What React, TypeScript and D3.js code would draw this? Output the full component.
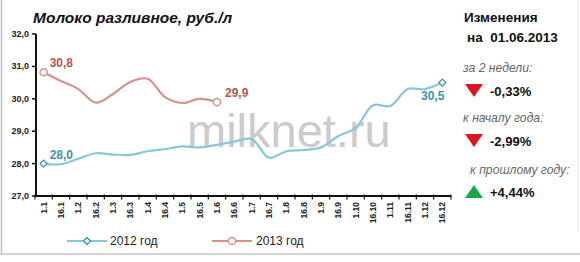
import React from "react";
import * as d3 from "d3";

const categories = ["1.1","16.1","1.2","16.2","1.3","16.3","1.4","16.4","1.5","16.5","1.6","16.6","1.7","16.7","1.8","16.8","1.9","16.9","1.10","16.10","1.11","16.11","1.12","16.12"];
const values2012 = [28.0,27.98,28.15,28.32,28.28,28.27,28.38,28.45,28.53,28.5,28.58,28.68,28.76,28.18,28.38,28.42,28.5,28.85,29.1,29.8,29.78,30.3,30.3,30.5];
const values2013 = [30.82,30.55,30.3,29.88,30.15,30.52,30.62,30.05,29.87,30.0,29.9];
const yTicks = [27,28,29,30,31,32];
const seriesNames = ["2012 год","2013 год"];
const changeLabels = ["за 2 недели:","к началу года:","к прошлому году:"];
const changeValues = ["-0,33%","-2,99%","+4,44%"];
const changeUp = [false,false,true];

const C2012 = "#86c8d8";
const C2013 = "#d6918a";
const L2012 = "#3e93a8";
const L2013 = "#b8574f";
const FONT = "'Liberation Sans', Arial, sans-serif";

export default function App() {
  const W = 580, H = 262;
  const x = d3.scaleBand<string>().domain(categories).range([35, 451]);
  const y = d3.scaleLinear().domain([27, 32]).range([196, 34]);
  const cx = (i: number) => (x(categories[i]) as number) + x.bandwidth() / 2;
  const line = d3.line<number>().x((_, i) => cx(i)).y(d => y(d)).curve(d3.curveCatmullRom.alpha(0.5));
  const fmt = (v: number) => v.toFixed(1).replace(".", ",");
  const diamond = (px: number, py: number, r = 3.5) => `M${px},${py - r}L${px + r},${py}L${px},${py + r}L${px - r},${py}Z`;
  const last12 = values2012.length - 1;
  const last13 = values2013.length - 1;
  const bounds = categories.map((c) => x(c) as number).concat([x.range()[1]]);
  const rowY = [72, 122, 174];
  const triTop = [84, 134, 185];
  return (
    <svg width={W} height={H} style={{ position: "absolute", left: 0, top: 0 }} fontFamily={FONT}>
      <rect x={0} y={0} width={W} height={H} fill="#fff" />
      {/* frame */}
      <line x1={1.5} y1={0} x2={1.5} y2={254} stroke="#bdbdbd" strokeWidth={1.5} />
      <line x1={0} y1={254} x2={W} y2={254} stroke="#c4c4c4" strokeWidth={1.5} />
      <line x1={578} y1={0} x2={578} y2={232} stroke="#e4e8ee" strokeWidth={1} />
      {/* title */}
      <text x={33} y={23} fontSize={15.5} fontWeight="bold" fontStyle="italic" fill="#111">Молоко разливное, руб./л</text>
      {/* watermark */}
      <text x={187} y={147} fontSize={47} fill="#c2c2c2" opacity={0.85}>milknet.ru</text>
      {/* y axis */}
      <line x1={36} y1={y(32)} x2={36} y2={y(27)} stroke="#111" strokeWidth={2} />
      {yTicks.map(t => (
        <g key={t}>
          <line x1={32} x2={36} y1={y(t)} y2={y(t)} stroke="#111" strokeWidth={1.5} />
          <text x={29} y={y(t) + 3} textAnchor="end" fontSize={9} fontWeight="bold" fill="#222">{fmt(t)}</text>
        </g>
      ))}
      {/* x axis */}
      <line x1={35} x2={451} y1={y(27)} y2={y(27)} stroke="#111" strokeWidth={2} />
      {bounds.map((b, i) => (
        <line key={i} x1={b} x2={b} y1={y(27) - 1.5} y2={y(27) + 3.5} stroke="#111" strokeWidth={1.2} />
      ))}
      {categories.map((c, i) => (
        <text key={c} transform={`translate(${cx(i) + 3},${y(27) + 6}) rotate(-90)`} textAnchor="end" fontSize={8.5} fontWeight="bold" fill="#222">{c}</text>
      ))}
      {/* lines */}
      <path d={line(values2012) || ""} fill="none" stroke={C2012} strokeWidth={2.2} />
      <path d={line(values2013) || ""} fill="none" stroke={C2013} strokeWidth={2.2} />
      {[0, last12].map(i => (
        <path key={i} d={diamond(cx(i), y(values2012[i]))} fill="#fff" stroke={L2012} strokeWidth={1.3} />
      ))}
      {[0, last13].map(i => (
        <circle key={i} cx={cx(i)} cy={y(values2013[i])} r={3.6} fill="#fff" stroke={C2013} strokeWidth={1.5} />
      ))}
      {/* data labels */}
      <text x={cx(0) + 6} y={y(values2012[0]) - 5} fontSize={12} fontWeight="bold" fill={L2012}>{fmt(values2012[0])}</text>
      <text x={cx(last12) + 2} y={y(values2012[last12]) + 17} fontSize={12} fontWeight="bold" fill={L2012} textAnchor="end">{fmt(values2012[last12])}</text>
      <text x={cx(0) + 6} y={y(values2013[0]) - 5} fontSize={12} fontWeight="bold" fill={L2013}>{fmt(values2013[0])}</text>
      <text x={cx(last13) + 8} y={y(values2013[last13]) - 5} fontSize={12} fontWeight="bold" fill={L2013}>{fmt(values2013[last13])}</text>
      {/* legend */}
      <line x1={67} x2={107} y1={241} y2={241} stroke={C2012} strokeWidth={2.2} />
      <path d={diamond(87, 241)} fill="#fff" stroke={L2012} strokeWidth={1.3} />
      <text x={110} y={245} fontSize={12} fill="#222">{seriesNames[0]}</text>
      <line x1={212} x2={252} y1={241} y2={241} stroke={C2013} strokeWidth={2.2} />
      <circle cx={232} cy={241} r={3.6} fill="#fff" stroke={C2013} strokeWidth={1.5} />
      <text x={256} y={245} fontSize={12} fill="#222">{seriesNames[1]}</text>
      {/* right panel */}
      <text x={464} y={22} fontSize={13.5} fontWeight="bold" fill="#111">Изменения</text>
      <text x={467} y={42} fontSize={13.5} fontWeight="bold" fill="#111" style={{ whiteSpace: "pre" }}>{"на  01.06.2013"}</text>
      {changeLabels.map((lbl, i) => {
        const ty = rowY[i];
        const t0 = triTop[i];
        const tx = 465;
        const tw = 18, th = 13;
        const tri = changeUp[i]
          ? `M${tx},${t0 + th}L${tx + tw},${t0 + th}L${tx + tw / 2},${t0}Z`
          : `M${tx},${t0}L${tx + tw},${t0}L${tx + tw / 2},${t0 + th}Z`;
        return (
          <g key={lbl}>
            <text x={i === 2 ? 470 : 463} y={ty} fontSize={12.2} fontStyle="italic" fill="#666">{lbl}</text>
            <path d={tri} fill={changeUp[i] ? "#1aa64a" : "#e0141e"} />
            <text x={490} y={t0 + 12} fontSize={13} fontWeight="bold" fill="#111">{changeValues[i]}</text>
          </g>
        );
      })}
    </svg>
  );
}
